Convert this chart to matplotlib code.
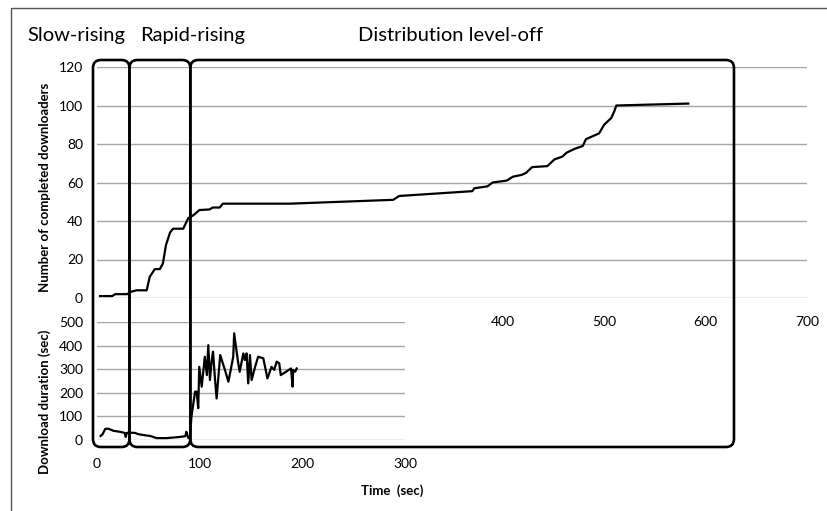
import matplotlib
matplotlib.use("Agg")
import matplotlib.pyplot as plt
from matplotlib.patches import FancyBboxPatch, Rectangle
from matplotlib.transforms import IdentityTransform

plt.rcParams['font.family'] = ['Lato', 'DejaVu Sans']

# ---- data ----
count_t = [3, 15, 18, 30, 32, 39, 49, 52, 57, 62, 65, 68, 72, 75, 85, 90, 95, 101, 111, 114,
           121, 124, 190, 292, 298, 370, 372, 385, 390, 404, 410, 419, 423, 429, 444, 451,
           459, 463, 471, 479, 482, 495, 500, 507, 510, 512, 583]
count_v = [1, 1, 2, 2, 3, 4, 4, 11, 15, 15, 18, 27.5, 34, 36, 36, 41.5, 43, 45.7, 46, 47,
           47, 49, 49, 51, 53, 55.5, 57, 58, 60, 61, 63, 64, 65, 68, 68.5, 72,
           73.5, 75.5, 77.5, 79, 82.5, 85.5, 90, 93.5, 97, 100, 101]

dur_t = [3.5, 5.5, 8, 11, 16, 22, 27, 28, 29, 32, 37, 40, 45, 52, 58, 68, 81, 86, 87, 88,
         89, 90.5, 92, 95.5, 97, 98.6, 99.6, 102, 105, 107, 108.4, 110, 111.6, 113, 115,
         116.5, 120, 124.6, 128, 132.7, 133.6, 136, 137.6, 139, 142.5, 144, 145.7, 147.3,
         149, 150.6, 154, 157, 162, 166, 170, 172.6, 175, 177.5, 179, 184, 189, 190.5,
         191, 193, 194.5]
dur_v = [17, 25, 47, 48, 39, 35, 30, 13, 30, 31, 30, 25, 21, 17, 8, 8, 13, 16, 35, 21,
         8, 8, 99, 205, 205, 135, 310, 226, 353, 275, 402, 254, 332, 374, 254,
         176, 360, 297, 247, 353, 452, 374, 325, 289, 367, 339, 367, 240,
         360, 254, 310, 353, 346, 261, 310, 297, 332, 325, 275, 289, 303, 226,
         297, 289, 303]

top_yticks = [0, 20, 40, 60, 80, 100, 120]
top_xticks = [400, 500, 600, 700]      # 0-300 are hidden behind the lower chart
bot_yticks = [0, 100, 200, 300, 400, 500]
bot_xticks = [0, 100, 200, 300]

phases = ['Slow-rising', 'Rapid-rising', 'Distribution level-off']
phase_bounds = [0, 32, 92, 628]        # seconds
phase_label_x = [27, 140, 358]         # px, left edge of the headings

W, H = 827, 511
fig = plt.figure(figsize=(W / 100, H / 100), dpi=100)

def fbox(l, t, r, b):
    return [l / W, 1 - b / H, (r - l) / W, (b - t) / H]

grid_c = '#a6a6a6'

# ---- upper chart ----
ax1 = fig.add_axes(fbox(97, 67, 807, 298))
ax1.plot(count_t, count_v, color='black', lw=1.6, solid_joinstyle='round')
ax1.set_xlim(0, 700)
ax1.set_ylim(0, 120)
ax1.set_yticks(top_yticks)
ax1.set_xticks(top_xticks)
ax1.grid(axis='y', color=grid_c, lw=1)
ax1.set_axisbelow(True)
ax1.tick_params(length=0, labelsize=10)
ax1.tick_params(axis='x', pad=13)
ax1.tick_params(axis='y', pad=10)
for s in ax1.spines.values():
    s.set_visible(False)

# ---- lower chart ----
ax2 = fig.add_axes(fbox(97, 322, 405, 440))
ax2.plot(dur_t, dur_v, color='black', lw=1.6, solid_joinstyle='round')
ax2.set_xlim(0, 300)
ax2.set_ylim(0, 500)
ax2.set_yticks(bot_yticks)
ax2.set_xticks(bot_xticks)
ax2.grid(axis='y', color=grid_c, lw=1)
ax2.set_axisbelow(True)
ax2.tick_params(length=0, labelsize=10)
ax2.tick_params(axis='x', pad=13)
ax2.tick_params(axis='y', pad=10)
for s in ax2.spines.values():
    s.set_visible(False)

# axis titles
fig.text(45 / W, 1 - 187 / H, 'Number of completed downloaders', rotation=90,
         ha='center', va='center', fontsize=9.5, fontweight='bold')
fig.text(45 / W, 1 - 402 / H, 'Download duration (sec)', rotation=90,
         ha='center', va='center', fontsize=9.5, fontweight='bold')
fig.text(392 / W, 1 - 491 / H, 'Time  (sec)', ha='center', va='center',
         fontsize=9.5, fontweight='bold')

# outer frame
fig.patches.append(Rectangle((10.5, -20), 900, H - 7.5 + 20, fill=False,
                             edgecolor='#555555', lw=1, transform=IdentityTransform()))

# phase boxes (pixel space, positioned from the time axis)
fig.canvas.draw()
y_top = ax1.transData.transform((0, 120))[1] + 7
y_bot = ax2.transData.transform((0, 0))[1] - 7
for i, name in enumerate(phases):
    x0 = ax1.transData.transform((phase_bounds[i], 0))[0]
    x1 = ax1.transData.transform((phase_bounds[i + 1], 0))[0]
    if i == 0:
        x0 -= 4
    fig.patches.append(FancyBboxPatch((x0, y_bot), x1 - x0, y_top - y_bot,
                                      boxstyle='round,pad=0,rounding_size=8',
                                      fill=False, edgecolor='black', lw=1.9,
                                      transform=IdentityTransform(), zorder=5))
    fig.text(phase_label_x[i] / W, 1 - 35 / H, name, ha='left', va='center',
             fontsize=14.5)

fig.savefig('out.png', dpi=100)
